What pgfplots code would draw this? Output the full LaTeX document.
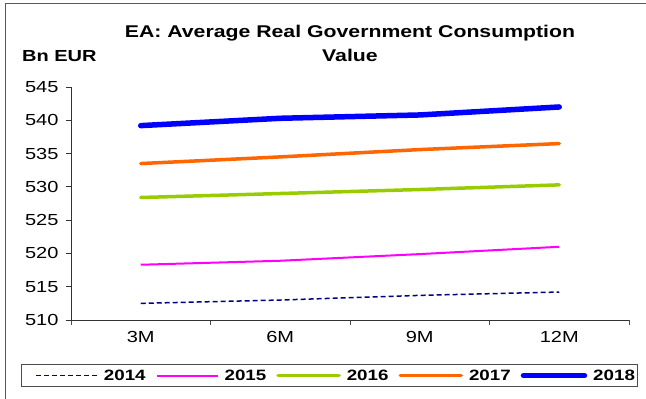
\documentclass[border=0pt]{standalone}
\usepackage{pgfplots}
\pgfplotsset{compat=1.18}
\usepackage{fontspec}
\setmainfont[FakeStretch=1.25]{Liberation Sans}
\definecolor{c14}{RGB}{0,0,128}
\definecolor{c15}{RGB}{255,0,255}
\definecolor{c16}{RGB}{153,204,0}
\definecolor{c17}{RGB}{255,102,0}
\definecolor{c18}{RGB}{0,0,255}
\pgfplotsset{firstleg/.style={legend image code/.code={\path (0pt,0pt); \draw[##1] (12pt,0pt) -- (73pt,0pt);}}}
\begin{document}
\begin{tikzpicture}[x=1pt,y=1pt]
\useasboundingbox (0,0) rectangle (646,399);
\draw[gray!70!black,line width=1pt] (5,-2) -- (5,395) -- (648,395);
\node[font=\fontsize{17}{20}\selectfont\bfseries,anchor=base] at (350,399-38) {EA: Average Real Government Consumption};
\node[font=\fontsize{17}{20}\selectfont\bfseries,anchor=base] at (350,399-62) {Value};
\node[font=\fontsize{16}{19}\selectfont\bfseries,anchor=base west,inner sep=0pt] at (22,399-62) {Bn EUR};
\begin{axis}[
  at={(71pt,79pt)}, anchor=south west,
  scale only axis, width=558pt, height=233pt,
  xmin=0.5, xmax=4.5, ymin=510, ymax=545,
  ytick={510,515,...,545},
  xtick={1,2,3,4}, xticklabels={3M,6M,9M,12M},
  minor xtick={0.5,1.5,2.5,3.5,4.5},
  axis lines=left,
  axis line style={-, black!80, line width=0.8pt},
  tick align=outside,
  major tick length=5pt, minor tick length=5pt,
  x tick style={draw=none},
  minor x tick style={draw=black!70, line width=0.8pt},
  y tick style={black!80, line width=0.8pt},
  /pgf/number format/assume math mode=true,
  tick label style={font=\fontsize{16}{19}\selectfont},
  yticklabel style={xshift=-4pt},
  xticklabel style={yshift=-3pt},
  legend columns=5,
  legend style={at={(-0.0896,-0.2876)}, anchor=south west, draw=black!70, line width=0.8pt,
     font=\fontsize{15}{18}\selectfont\bfseries, inner xsep=2pt, inner ysep=5pt,
     nodes={inner sep=0pt},
     /tikz/every odd column/.append style={column sep=6pt},
     /tikz/every even column/.append style={column sep=10pt}},
  legend image code/.code={\draw[#1] (0pt,0pt) -- (61pt,0pt);},
]
\addplot[c14, line width=1.5pt, dash pattern=on 5pt off 3pt, firstleg] coordinates {(1,512.5) (2,513.0) (3,513.7) (4,514.2)};
\addlegendentry{2014}
\addplot[c15, line width=2pt] coordinates {(1,518.3) (2,518.9) (3,519.9) (4,521.0)};
\addlegendentry{2015}
\addplot[c16, line width=3.5pt, line cap=round] coordinates {(1,528.4) (2,529.0) (3,529.6) (4,530.3)};
\addlegendentry{2016}
\addplot[c17, line width=3.5pt, line cap=round] coordinates {(1,533.5) (2,534.5) (3,535.6) (4,536.5)};
\addlegendentry{2017}
\addplot[c18, line width=5.5pt, line cap=round] coordinates {(1,539.2) (2,540.3) (3,540.8) (4,542.0)};
\addlegendentry{2018}
\end{axis}
\end{tikzpicture}
\end{document}
